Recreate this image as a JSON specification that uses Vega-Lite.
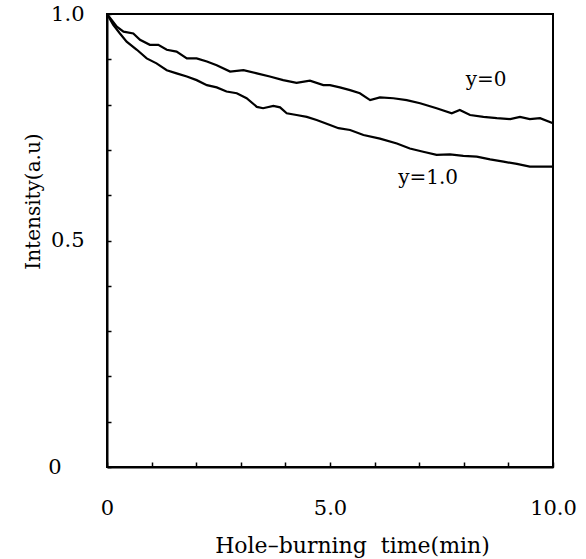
{
  "$schema": "https://vega.github.io/schema/vega-lite/v6.json",
  "autosize": "none",
  "width": 446,
  "height": 453,
  "padding": {"left": 107, "top": 14, "right": 33, "bottom": 92},
  "background": "white",
  "config": {
    "view": {"stroke": "black", "strokeWidth": 2},
    "font": "DejaVu Serif",
    "axis": {
      "grid": false,
      "domainColor": "black",
      "domainWidth": 2,
      "tickColor": "black",
      "tickWidth": 1.5,
      "labelColor": "black",
      "titleColor": "black",
      "labelFont": "DejaVu Serif",
      "titleFont": "DejaVu Serif",
      "labelFontSize": 21,
      "titleFontSize": 21,
      "labelFontWeight": "normal",
      "titleFontWeight": "normal"
    }
  },
  "datasets": {
    "curves": [
      {"t": 0, "intensity": 1.0, "series": "y=0"},
      {"t": 0.22, "intensity": 0.972, "series": "y=0"},
      {"t": 0.37, "intensity": 0.961, "series": "y=0"},
      {"t": 0.59, "intensity": 0.957, "series": "y=0"},
      {"t": 0.74, "intensity": 0.943, "series": "y=0"},
      {"t": 0.96, "intensity": 0.932, "series": "y=0"},
      {"t": 1.15, "intensity": 0.932, "series": "y=0"},
      {"t": 1.34, "intensity": 0.921, "series": "y=0"},
      {"t": 1.56, "intensity": 0.917, "series": "y=0"},
      {"t": 1.79, "intensity": 0.902, "series": "y=0"},
      {"t": 2.01, "intensity": 0.902, "series": "y=0"},
      {"t": 2.24, "intensity": 0.895, "series": "y=0"},
      {"t": 2.46, "intensity": 0.887, "series": "y=0"},
      {"t": 2.76, "intensity": 0.873, "series": "y=0"},
      {"t": 3.06, "intensity": 0.876, "series": "y=0"},
      {"t": 3.36, "intensity": 0.869, "series": "y=0"},
      {"t": 3.65, "intensity": 0.862, "series": "y=0"},
      {"t": 3.95, "intensity": 0.854, "series": "y=0"},
      {"t": 4.25, "intensity": 0.848, "series": "y=0"},
      {"t": 4.55, "intensity": 0.853, "series": "y=0"},
      {"t": 4.85, "intensity": 0.843, "series": "y=0"},
      {"t": 5.0, "intensity": 0.843, "series": "y=0"},
      {"t": 5.22, "intensity": 0.838, "series": "y=0"},
      {"t": 5.45, "intensity": 0.832, "series": "y=0"},
      {"t": 5.67, "intensity": 0.825, "series": "y=0"},
      {"t": 5.9, "intensity": 0.81, "series": "y=0"},
      {"t": 6.12, "intensity": 0.816, "series": "y=0"},
      {"t": 6.42, "intensity": 0.814, "series": "y=0"},
      {"t": 6.72, "intensity": 0.81, "series": "y=0"},
      {"t": 7.02, "intensity": 0.803, "series": "y=0"},
      {"t": 7.39, "intensity": 0.792, "series": "y=0"},
      {"t": 7.73, "intensity": 0.781, "series": "y=0"},
      {"t": 7.91, "intensity": 0.788, "series": "y=0"},
      {"t": 8.14, "intensity": 0.777, "series": "y=0"},
      {"t": 8.44, "intensity": 0.773, "series": "y=0"},
      {"t": 8.74, "intensity": 0.77, "series": "y=0"},
      {"t": 9.04, "intensity": 0.768, "series": "y=0"},
      {"t": 9.26, "intensity": 0.773, "series": "y=0"},
      {"t": 9.48, "intensity": 0.768, "series": "y=0"},
      {"t": 9.71, "intensity": 0.77, "series": "y=0"},
      {"t": 10.0, "intensity": 0.759, "series": "y=0"},
      {"t": 0, "intensity": 1.0, "series": "y=1.0"},
      {"t": 0.14, "intensity": 0.976, "series": "y=1.0"},
      {"t": 0.29, "intensity": 0.957, "series": "y=1.0"},
      {"t": 0.44, "intensity": 0.939, "series": "y=1.0"},
      {"t": 0.67, "intensity": 0.921, "series": "y=1.0"},
      {"t": 0.89, "intensity": 0.902, "series": "y=1.0"},
      {"t": 1.11, "intensity": 0.891, "series": "y=1.0"},
      {"t": 1.34, "intensity": 0.876, "series": "y=1.0"},
      {"t": 1.56, "intensity": 0.869, "series": "y=1.0"},
      {"t": 1.79, "intensity": 0.862, "series": "y=1.0"},
      {"t": 2.01, "intensity": 0.854, "series": "y=1.0"},
      {"t": 2.24, "intensity": 0.843, "series": "y=1.0"},
      {"t": 2.46, "intensity": 0.838, "series": "y=1.0"},
      {"t": 2.68, "intensity": 0.829, "series": "y=1.0"},
      {"t": 2.91, "intensity": 0.825, "series": "y=1.0"},
      {"t": 3.13, "intensity": 0.814, "series": "y=1.0"},
      {"t": 3.36, "intensity": 0.795, "series": "y=1.0"},
      {"t": 3.5, "intensity": 0.792, "series": "y=1.0"},
      {"t": 3.73, "intensity": 0.797, "series": "y=1.0"},
      {"t": 3.88, "intensity": 0.794, "series": "y=1.0"},
      {"t": 4.03, "intensity": 0.781, "series": "y=1.0"},
      {"t": 4.25, "intensity": 0.777, "series": "y=1.0"},
      {"t": 4.48, "intensity": 0.773, "series": "y=1.0"},
      {"t": 4.7, "intensity": 0.766, "series": "y=1.0"},
      {"t": 5.0, "intensity": 0.755, "series": "y=1.0"},
      {"t": 5.19, "intensity": 0.748, "series": "y=1.0"},
      {"t": 5.45, "intensity": 0.744, "series": "y=1.0"},
      {"t": 5.75, "intensity": 0.733, "series": "y=1.0"},
      {"t": 6.12, "intensity": 0.725, "series": "y=1.0"},
      {"t": 6.5, "intensity": 0.714, "series": "y=1.0"},
      {"t": 6.79, "intensity": 0.703, "series": "y=1.0"},
      {"t": 7.09, "intensity": 0.696, "series": "y=1.0"},
      {"t": 7.39, "intensity": 0.689, "series": "y=1.0"},
      {"t": 7.69, "intensity": 0.69, "series": "y=1.0"},
      {"t": 7.99, "intensity": 0.687, "series": "y=1.0"},
      {"t": 8.29, "intensity": 0.685, "series": "y=1.0"},
      {"t": 8.59, "intensity": 0.679, "series": "y=1.0"},
      {"t": 8.89, "intensity": 0.674, "series": "y=1.0"},
      {"t": 9.19, "intensity": 0.669, "series": "y=1.0"},
      {"t": 9.48, "intensity": 0.663, "series": "y=1.0"},
      {"t": 10.0, "intensity": 0.663, "series": "y=1.0"}
    ],
    "labels": [
      {"t": 8.5, "intensity": 0.854, "label": "y=0"},
      {"t": 7.2, "intensity": 0.638, "label": "y=1.0"}
    ]
  },
  "layer": [
    {
      "data": {"name": "curves"},
      "mark": {"type": "line", "strokeWidth": 2.2, "color": "black"},
      "encoding": {
        "x": {
          "field": "t",
          "type": "quantitative",
          "scale": {"domain": [0, 10], "nice": false},
          "axis": {
            "values": [0, 1, 2, 3, 4, 5, 6, 7, 8, 9, 10],
            "labelExpr": "datum.value === 0 ? '0' : datum.value === 5 ? '5.0' : datum.value === 10 ? '10.0' : ''",
            "tickSize": -5,
            "labelPadding": 35,
            "labelFlush": false,
            "labelOverlap": false,
            "title": "Hole–burning\u00a0\u00a0time(min)",
            "titleFontSize": 22,
            "titleX": 245,
            "titleY": 78,
            "titleAlign": "center",
            "titleBaseline": "middle"
          }
        },
        "y": {
          "field": "intensity",
          "type": "quantitative",
          "scale": {"domain": [0, 1], "nice": false},
          "axis": {
            "values": [0, 0.1, 0.2, 0.3, 0.4, 0.5, 0.6, 0.7, 0.8, 0.9, 1],
            "labelExpr": "datum.value === 0 ? '0' : datum.value === 0.5 ? '0.5' : datum.value === 1 ? '1.0' : ''",
            "tickSize": -4,
            "labelPadding": {"condition": {"test": "datum.value === 0", "value": 50}, "value": 27},
            "labelFlush": false,
            "labelOverlap": false,
            "title": "Intensity(a.u)",
            "titleFontSize": 20,
            "titleX": -74,
            "titleY": 187,
            "titleAlign": "center",
            "titleBaseline": "middle"
          }
        },
        "detail": {"field": "series"}
      }
    },
    {
      "data": {"name": "labels"},
      "mark": {"type": "text", "font": "DejaVu Serif", "fontSize": 20, "color": "black"},
      "encoding": {
        "x": {"field": "t", "type": "quantitative"},
        "y": {"field": "intensity", "type": "quantitative"},
        "text": {"field": "label"}
      }
    }
  ]
}
